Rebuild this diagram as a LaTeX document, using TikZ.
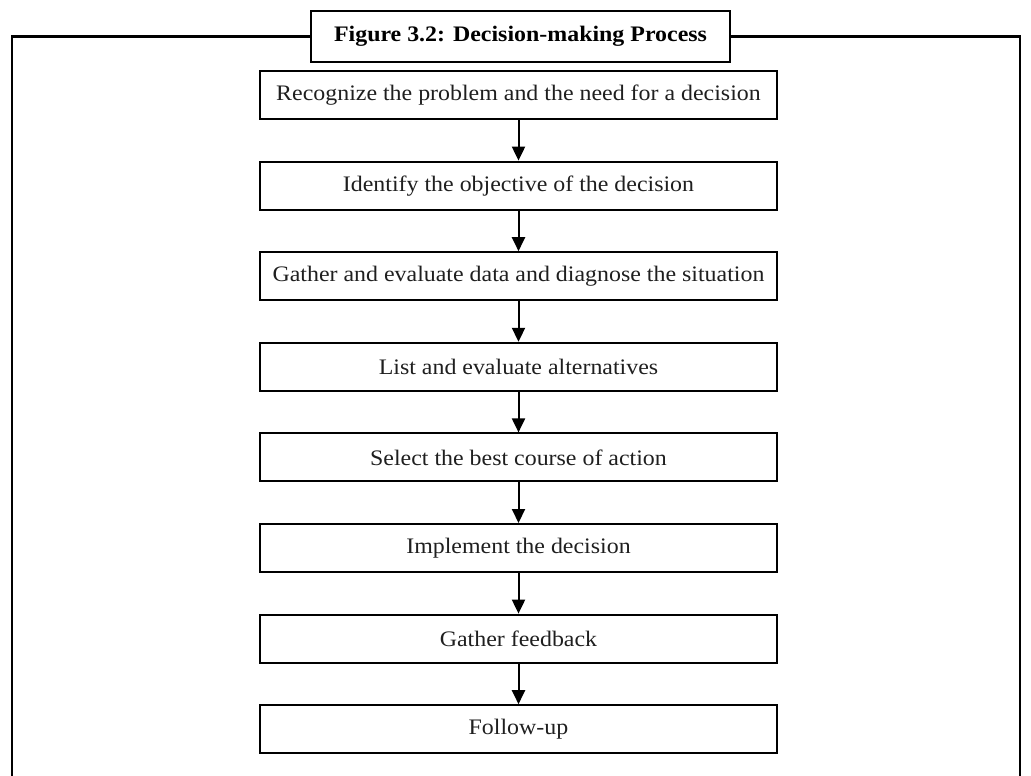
\documentclass[tikz,border=0pt]{standalone}
\usepackage{fontspec}
\setmainfont{Liberation Serif}[FakeStretch=1.08]
\usetikzlibrary{arrows.meta}
\begin{document}
\begin{tikzpicture}[x=0.75pt,y=-0.75pt,
  stepbox/.style={draw=black, line width=1.5pt, fill=white,
    minimum width=387.75pt, minimum height=36pt, inner sep=0pt,
    text=black!88, font=\fontsize{16.6}{19}\selectfont},
  titlebox/.style={draw=black, line width=1.7pt, fill=white,
    minimum width=314.25pt, minimum height=38.25pt, inner sep=0pt,
    font=\bfseries\fontsize{16.6}{19}\selectfont},
  flow/.style={line width=1.5pt, -{Triangle[length=10.5pt, width=9.75pt]}},
  frame/.style={line width=1.9pt}]
\useasboundingbox (0,0) rectangle (1031,775);

% outer frame, open at the bottom
\coordinate (fbl) at (12,776);
\coordinate (ftl) at (12,36.7);
\coordinate (ftr) at (1020,36.7);
\coordinate (fbr) at (1020,776);
\draw[frame] (fbl) -- (ftl) -- (ftr) -- (fbr);

\node[titlebox] (title) at (520.5,36.2) {Figure 3.2: Decision-making Process};

% process steps
\node[stepbox] (s1) at (518.5,95.0)  {Recognize the problem and the need for a decision};
\node[stepbox] (s2) at (518.5,185.6) {Identify the objective of the decision};
\node[stepbox] (s3) at (518.5,276.2) {Gather and evaluate data and diagnose the situation};
\node[stepbox] (s4) at (518.5,366.8) {List and evaluate alternatives};
\node[stepbox] (s5) at (518.5,457.4) {Select the best course of action};
\node[stepbox] (s6) at (518.5,548.0) {Implement the decision};
\node[stepbox] (s7) at (518.5,638.6) {Gather feedback};
\node[stepbox] (s8) at (518.5,729.2) {Follow-up};

\foreach \a/\b in {s1/s2,s2/s3,s3/s4,s4/s5,s5/s6,s6/s7,s7/s8}
  \draw[flow] (\a.south) -- (\b.north);
\end{tikzpicture}
\end{document}
